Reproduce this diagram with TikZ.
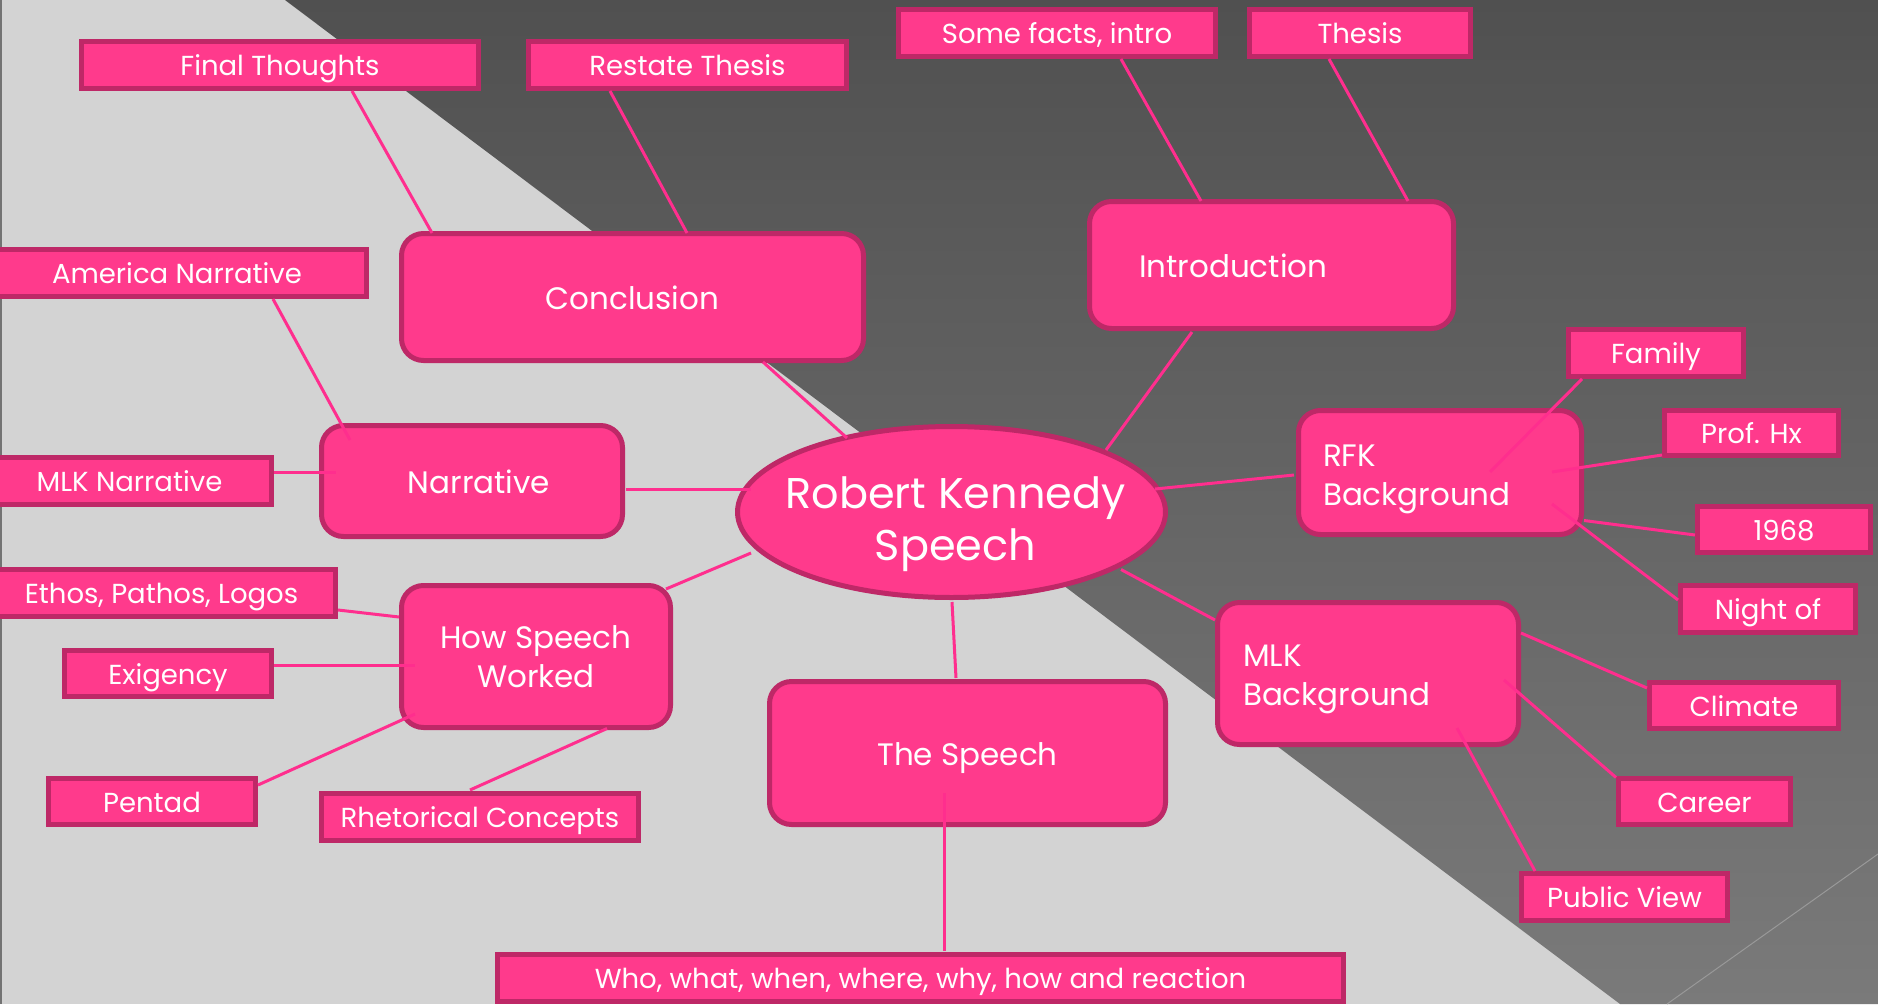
\documentclass[tikz,border=0pt]{standalone}
\usepackage{fontspec}
\setmainfont{Poppins}
\usetikzlibrary{shapes.geometric,calc}
\definecolor{bglight}{HTML}{D3D3D3}
\definecolor{bgdarktop}{HTML}{505050}
\definecolor{bgdarkbot}{HTML}{7A7A7A}
\definecolor{pinkfill}{HTML}{FF3A8C}
\definecolor{pinkedge}{HTML}{BE2867}
\definecolor{pinkline}{HTML}{FF2E8E}
\newcommand\conlink[4]{\draw[conn] ($(#1)+(#2)$) -- ($(#3)+(#4)$);}
\begin{document}
\begin{tikzpicture}[x=1pt,y=-1pt,
  box/.style={draw=pinkedge,fill=pinkfill,line width=5pt,text=white,inner sep=0pt,align=center},
  sbox/.style 2 args={box,rectangle,minimum width={#1-5},minimum height={#2-5},font=\fontsize{27.5}{33}\selectfont,text height=21pt,text depth=0pt},
  rbox/.style 2 args={box,rectangle,rounded corners=22pt,minimum width={#1-5},minimum height={#2-5},font=\fontsize{31}{39}\selectfont},
  oneline/.style={text height=24pt,text depth=0pt},
  lbox/.style n args={3}{rbox={#1}{#2},text width=#3,align=left},
  conn/.style={draw=pinkline,line width=3pt}]
\useasboundingbox (0,0) rectangle (1878,1004);
% background
\fill[bglight] (0,0) rectangle (1878,1004);
\shade[top color=bgdarktop,bottom color=bgdarkbot] (285,0) -- (1878,0) -- (1878,1004) -- (1620,1004) -- cycle;
\draw[color=black!40,line width=1pt] (1667,1004) -- (1878,854);
\draw[color=black!55,line width=2.5pt] (1,0) -- (1,1004);
% nodes
\node[sbox={402}{52}] (ft) at (280,65) {Final Thoughts};
\node[sbox={323}{52}] (rt) at (687.5,65) {Restate Thesis};
\node[sbox={384}{52}] (an) at (177,273) {America Narrative};
\node[rbox={467}{132},oneline] (conc) at (632.5,297) {Conclusion};
\node[sbox={322}{52}] (sf) at (1057,33) {Some facts, intro};
\node[sbox={226}{52}] (th) at (1360,33) {Thesis};
\node[lbox={369}{132}{265},oneline] (intro) at (1271.5,265) {Introduction};
\node[sbox={180}{52}] (fam) at (1656,353) {Family};
\node[sbox={289}{52}] (mlkn) at (129.5,481) {MLK Narrative};
\node[rbox={306}{116},oneline] (narr) at (472,481) {\hspace*{14pt}Narrative};
\node[sbox={353}{52}] (eth) at (161.5,593) {Ethos, Pathos, Logos};
\node[sbox={212}{51}] (exi) at (168,673.5) {Exigency};
\node[rbox={274}{147}] (hsw) at (536,656.5) {How Speech\\Worked};
\node[sbox={212}{51}] (pen) at (152,801.5) {Pentad};
\node[sbox={322}{52}] (rc) at (480,817) {Rhetorical Concepts};
\node[sbox={851}{52}] (who) at (920.5,978) {Who, what, when, where, why, how and reaction};
\node[rbox={401}{148},oneline] (sp) at (967.5,753) {The Speech};
\node[lbox={288}{129}{234},text height=35.7pt] (rfk) at (1440,472.5) {RFK\\Background};
\node[sbox={179}{50}] (ph) at (1751.5,433) {Prof. Hx};
\node[sbox={178}{51}] (y68) at (1784,529.5) {1968};
\node[sbox={180}{52}] (no) at (1768,609) {Night of};
\node[lbox={306}{147}{250},text height=32.7pt] (mlkb) at (1368,673.5) {MLK\\Background};
\node[sbox={194}{51}] (cl) at (1744,705.5) {Climate};
\node[sbox={177}{51}] (ca) at (1704.5,801.5) {Career};
\node[sbox={211}{52}] (pv) at (1624.5,897) {Public View};
\node[box,ellipse,minimum width=428,minimum height=171] (rk) at (951.5,512) {};
\node[text=white,font=\fontsize{43}{52}\selectfont,align=center,inner sep=0pt] (rkt) at ($(rk)+(4,12)$) {Robert Kennedy\\Speech};
% connectors
\conlink{ft}{72,26}{conc}{-200.5,-64}
\conlink{rt}{-77.5,26}{conc}{54.5,-64}
\conlink{conc}{130.5,65}{rk}{-104.5,-74}
\conlink{an}{96,26}{narr}{-122,-41}
\conlink{mlkn}{144.5,-9}{narr}{-136,-9}
\conlink{narr}{154,8}{rk}{-200.5,-23}
\conlink{hsw}{130,-67.5}{rk}{-200.5,41}
\conlink{eth}{176.5,17}{hsw}{-137,-39.5}
\conlink{exi}{106,-8.5}{hsw}{-121,8.5}
\conlink{pen}{106,-16.5}{hsw}{-121,57.5}
\conlink{rc}{-10,-27}{hsw}{71,72}
\conlink{rk}{0.5,90}{sp}{-11.5,-75}
\conlink{sp}{-23.5,40}{who}{23.5,-27}
\conlink{rk}{154.5,-62}{intro}{-79.5,67}
\conlink{sf}{64,26}{intro}{-70.5,-64}
\conlink{th}{-31,26}{intro}{136.5,-64}
\conlink{rk}{203.5,-23}{rfk}{-146,2.5}
\conlink{fam}{-74,26}{rfk}{50,-0.5}
\conlink{ph}{-89.5,22}{rfk}{112,-0.5}
\conlink{y68}{-89,5.5}{rfk}{144,48}
\conlink{no}{-90,-9}{rfk}{112,31.5}
\conlink{rk}{169.5,57.5}{mlkb}{-153,-53.5}
\conlink{cl}{-97,-17.5}{mlkb}{153,-40.5}
\conlink{ca}{-88.5,-24}{mlkb}{136,6.5}
\conlink{pv}{-89.5,-26}{mlkb}{89,54.5}
\end{tikzpicture}
\end{document}
